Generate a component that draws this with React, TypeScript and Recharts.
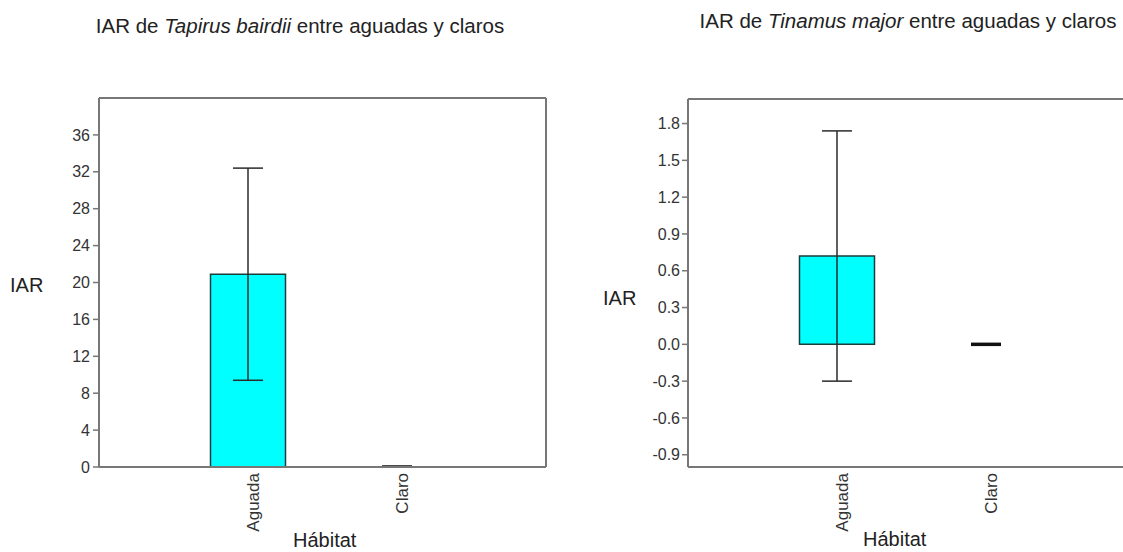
import { BarChart, Bar, XAxis, YAxis, ErrorBar, Rectangle } from 'recharts';

const habitats = ['Aguada', 'Claro'];

// Tapirus bairdii: mean IAR and error per habitat
const tapirMeans = [20.9, 0];
const tapirErrors = [11.5, 0];
const tapirTicks = [0, 4, 8, 12, 16, 20, 24, 28, 32, 36];

// Tinamus major: mean IAR and error per habitat
const tinamusMeans = [0.72, 0];
const tinamusErrors = [1.02, 0];
const tinamusTicks = [-0.9, -0.6, -0.3, 0, 0.3, 0.6, 0.9, 1.2, 1.5, 1.8];

const frame = { stroke: '#777', strokeWidth: 2 };
const CAP = 15;

function HabitatTick({ x, y, payload }: any) {
  return (
    <text
      transform={`translate(${x + 5},${y + 6}) rotate(-90)`}
      textAnchor="end"
      dominantBaseline="central"
      fontSize={17}
      fill="#333"
    >
      {payload.value}
    </text>
  );
}

// a zero mean still gets its flat error cap drawn at the baseline
// (thick enough to show on top of the x axis line)
function MeanBar(props: any) {
  const { x, y, width, height } = props;
  if (!height) {
    const cx = x + width / 2;
    return <line x1={cx - CAP} x2={cx + CAP} y1={y} y2={y} stroke="#111" strokeWidth={3.5} />;
  }
  return <Rectangle {...props} />;
}

type PanelProps = {
  left: number;
  top: number;
  domain: [number, number];
  ticks: number[];
  means: number[];
  errors: number[];
  format: (v: number) => string;
  tickMargin: number;
};

function Panel({ left, top, domain, ticks, means, errors, format, tickMargin }: PanelProps) {
  const data = habitats.map((h, i) => ({ habitat: h, iar: means[i], err: errors[i] }));
  return (
    <div style={{ position: 'absolute', left, top: 0 }}>
      <BarChart
        width={549}
        height={552}
        data={data}
        margin={{ top: top - 1, right: 2, bottom: 0, left: 0 }}
      >
        <XAxis
          dataKey="habitat"
          height={85}
          padding={{ left: 74.5, right: 74.5 }}
          tickLine={false}
          tickSize={0}
          tickMargin={0}
          axisLine={frame}
          tick={<HabitatTick />}
          interval={0}
        />
        <XAxis
          xAxisId="top"
          dataKey="habitat"
          orientation="top"
          height={1}
          tick={false}
          tickLine={false}
          axisLine={frame}
        />
        <YAxis
          type="number"
          width={99}
          domain={domain}
          ticks={ticks}
          allowDataOverflow
          interval={0}
          tickFormatter={format}
          tickSize={6}
          tickMargin={tickMargin}
          tickLine={{ stroke: '#777', strokeWidth: 1.5 }}
          axisLine={frame}
          tick={{ fontSize: 16, fill: '#333' }}
        />
        <YAxis
          yAxisId="right"
          orientation="right"
          type="number"
          width={1}
          domain={domain}
          ticks={ticks}
          tick={false}
          tickLine={false}
          axisLine={frame}
        />
        <Bar
          dataKey="iar"
          fill="#00ffff"
          stroke="#1a3d3d"
          strokeWidth={1.5}
          barSize={75}
          shape={<MeanBar />}
          isAnimationActive={false}
        >
          <ErrorBar
            dataKey="err"
            direction="y"
            width={CAP}
            stroke="#2b2b2b"
            strokeWidth={1.5}
            isAnimationActive={false}
          />
        </Bar>
      </BarChart>
    </div>
  );
}

const labelStyle = {
  position: 'absolute' as const,
  whiteSpace: 'nowrap' as const,
  fontSize: 20,
  lineHeight: '20px',
  color: '#222',
};

const titleStyle = {
  ...labelStyle,
  fontSize: 20.5,
  transform: 'translateX(-50%)',
};

export default function App() {
  return (
    <div
      style={{
        position: 'fixed',
        left: 0,
        top: 0,
        width: 1123,
        height: 552,
        overflow: 'hidden',
        background: '#fff',
        fontFamily: '"Liberation Sans", Arial, sans-serif',
      }}
    >
      <Panel
        left={0}
        top={98}
        domain={[0, 40]}
        ticks={tapirTicks}
        means={tapirMeans}
        errors={tapirErrors}
        format={(v) => String(v)}
        tickMargin={3}
      />
      <Panel
        left={589}
        top={99}
        domain={[-1, 2]}
        ticks={tinamusTicks}
        means={tinamusMeans}
        errors={tinamusErrors}
        format={(v) => v.toFixed(1)}
        tickMargin={2}
      />

      <div style={{ ...titleStyle, left: 300, top: 16 }}>
        IAR de <i>Tapirus bairdii</i> entre aguadas y claros
      </div>
      <div style={{ ...titleStyle, left: 908, top: 11 }}>
        IAR de <i>Tinamus major</i> entre aguadas y claros
      </div>

      <div style={{ ...labelStyle, left: 10, top: 275 }}>IAR</div>
      <div style={{ ...labelStyle, left: 603, top: 288 }}>IAR</div>
      <div style={{ ...labelStyle, left: 293, top: 530 }}>Hábitat</div>
      <div style={{ ...labelStyle, left: 863, top: 529 }}>Hábitat</div>
    </div>
  );
}
